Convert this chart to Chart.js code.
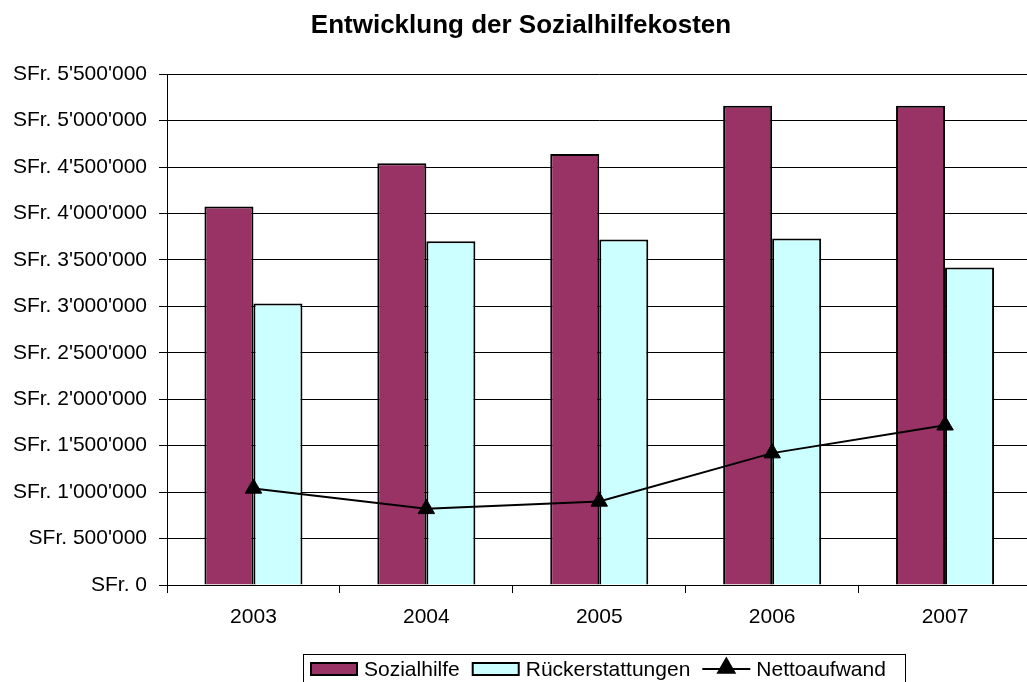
<!DOCTYPE html>
<html>
<head>
<meta charset="utf-8">
<script src="https://cdn.jsdelivr.net/npm/chart.js@4/dist/chart.umd.min.js"></script>
<style>
  html, body { margin: 0; padding: 0; background: #fff; overflow: hidden; }
  /* plot area runs a few px past the right edge, as in the original */
  #wrap { width: 1042px; height: 682px; }
</style>
</head>
<body>
<div id="wrap"><canvas id="chart"></canvas></div>
<script>
const years = ["2003", "2004", "2005", "2006", "2007"];
const sozialhilfe = [4075000, 4540000, 4640000, 5160000, 5160000];
const rueckerstattungen = [3030000, 3700000, 3720000, 3730000, 3420000];
const nettoaufwand = [1040000, 820000, 900000, 1420000, 1720000];

const FONT = "'Liberation Sans', Arial, sans-serif";

function sfr(v) {
    const s = String(Math.round(v)).replace(/\B(?=(\d{3})+(?!\d))/g, "'");
    return `SFr. ${s}`;
}

// legend in a box at the bottom, like the excel one
const boxLegend = {
    id: "boxLegend",
    afterDraw(chart) {
        const ctx = chart.ctx;
        const items = chart.data.datasets;
        const symW = 48, gapIn = 6, gapOut = 12;
        const cy = 669;
        let x = 310;
        ctx.save();
        ctx.font = `21px ${FONT}`;
        ctx.textBaseline = "middle";
        ctx.strokeStyle = "#000";
        ctx.lineWidth = 1;
        ctx.strokeRect(303.5, 654.5, 602, 34);
        items.forEach((d) => {
            if (d.type === "line") {
                ctx.beginPath();
                ctx.lineWidth = 2;
                ctx.moveTo(x, cy);
                ctx.lineTo(x + symW, cy);
                ctx.stroke();
                Chart.helpers.drawPoint(ctx, { pointStyle: "triangle", radius: 9.5, borderWidth: 1 }, x + symW / 2, cy - 1);
                ctx.fillStyle = "#000";
                ctx.fill();
            } else {
                ctx.fillStyle = d.backgroundColor;
                ctx.fillRect(x, cy - 7, symW, 14);
                ctx.lineWidth = 2;
                ctx.strokeRect(x + 1, cy - 6, symW - 2, 12);
            }
            ctx.fillStyle = "#000";
            ctx.fillText(d.label, x + symW + gapIn, cy + 1);
            x += symW + gapIn + ctx.measureText(d.label).width + gapOut;
        });
        ctx.restore();
    }
};

new Chart(document.getElementById("chart"), {
    type: "bar",
    data: {
        labels: years,
        datasets: [
            {
                label: "Sozialhilfe",
                data: sozialhilfe,
                backgroundColor: "#993366",
                borderColor: "#000",
                borderWidth: 2,
                order: 1
            },
            {
                label: "Rückerstattungen",
                data: rueckerstattungen,
                backgroundColor: "#CCFFFF",
                borderColor: "#000",
                borderWidth: 2,
                order: 1
            },
            {
                type: "line",
                label: "Nettoaufwand",
                data: nettoaufwand,
                borderColor: "#000",
                borderWidth: 2,
                pointStyle: "triangle",
                pointRadius: 9.5,
                pointHoverRadius: 9.5,
                pointBackgroundColor: "#000",
                pointBorderColor: "#000",
                pointBorderWidth: 1,
                tension: 0,
                order: 0
            }
        ]
    },
    options: {
        responsive: true,
        maintainAspectRatio: false,
        animation: false,
        categoryPercentage: 0.567,
        barPercentage: 1.0,
        layout: { padding: 0 },
        plugins: {
            legend: { display: false },
            tooltip: { enabled: false },
            title: {
                display: true,
                text: "Entwicklung der Sozialhilfekosten",
                color: "#000",
                font: { family: FONT, size: 26, weight: "bold" },
                padding: { top: 10, bottom: 33 }
            }
        },
        scales: {
            x: {
                offset: true,
                grid: { offset: true, drawOnChartArea: false, drawTicks: true, tickLength: 8, color: "#000" },
                border: { display: true, color: "#000", width: 1 },
                ticks: { color: "#000", font: { family: FONT, size: 21 }, padding: 12 },
                afterFit(scale) {
                    scale.height = 97;
                    scale.paddingRight = 0;
                    scale.paddingLeft = 0;
                }
            },
            y: {
                min: 0,
                max: 5500000,
                ticks: {
                    stepSize: 500000,
                    color: "#000",
                    font: { family: FONT, size: 21 },
                    padding: 12,
                    callback: (v) => sfr(v)
                },
                grid: { color: "#000", lineWidth: 1, tickLength: 8 },
                border: { display: true, color: "#000", width: 1 },
                afterFit(scale) { scale.width = 167; }
            }
        }
    },
    plugins: [boxLegend]
});
</script>
</body>
</html>
